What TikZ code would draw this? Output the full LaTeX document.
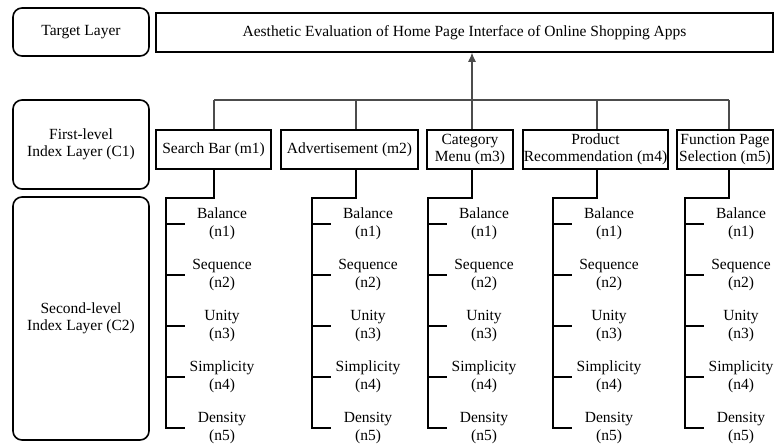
\documentclass[tikz,border=0pt]{standalone}
\usepackage{fontspec}
\setmainfont{Liberation Serif}
\usetikzlibrary{arrows.meta,positioning}

\begin{document}
\begin{tikzpicture}[x=1pt, y=-1pt, font=\fontsize{15.5}{17.5}\selectfont,
        layer/.style={draw, line width=1.6pt, rounded corners=9pt, align=center, inner sep=0pt},
        crit/.style={draw, line width=1.5pt, align=center, inner sep=0.5pt, minimum height=39pt},
        item/.style={align=center, inner sep=0pt, minimum width=74pt},
        bus/.style={line width=1.1pt, draw=black!70},
        stem/.style={line width=1.6pt}]
                \useasboundingbox (0,0) rectangle (775,445);

                % layers
                \node[layer, minimum width=136pt, minimum height=48pt] (target) at (81,32) {Target Layer};
                \node[layer, minimum width=136pt, minimum height=89pt] (first) at (81,144.5) {First-level\\Index Layer (C1)};
                \node[layer, minimum width=136pt, minimum height=243pt] (second) at (81,318.5) {Second-level\\Index Layer (C2)};

                % goal and criteria
                \node[crit, minimum width=617pt] (goal) at (464.5,32.5) {Aesthetic Evaluation of Home Page Interface of Online Shopping Apps};
                \node[crit, minimum width=115pt] (m1) at (213.5,149.5) {Search Bar (m1)};
                \node[crit, minimum width=137pt] (m2) at (349.5,149.5) {Advertisement (m2)};
                \node[crit, minimum width=86pt] (m3) at (470,149.5) {Category\\Menu (m3)};
                \node[crit, minimum width=145pt] (m4) at (595.5,149.5) {Product\\Recommendation (m4)};
                \node[crit, minimum width=96pt] (m5) at (725,149.5) {Function Page\\Selection (m5)};

                \coordinate (t1) at (214,100);
                \coordinate (t2) at (356,100);
                \coordinate (t3) at (472,100);
                \coordinate (t4) at (597,100);
                \coordinate (t5) at (729,100);

                % sub-criteria
                \foreach \i/\sx in {1/166,2/312,3/428,4/553,5/685} {
                    \coordinate (s\i) at (\sx,198);
                    \foreach \k/\name in {1/Balance,2/Sequence,3/Unity,4/Simplicity,5/Density}
                        \node[item] (n\i-\k) at (\sx+56,173+51*\k) {\name\\(n\k)};
                }

                % connectors
                \draw[bus] (t1) -- (t5);
                \draw[bus, -{Latex[length=9pt,width=8pt]}] (t3) -- (t3 |- goal.south);
                \foreach \i in {1,...,5} {
                    \draw[bus] (t\i) -- (t\i |- m\i.north);
                    \draw[stem] (t\i |- m\i.south) |- (s\i) |- (n\i-5.west);
                    \foreach \k in {1,...,4}
                        \draw[stem] (s\i |- n\i-\k.west) -- (n\i-\k.west);
                }
            \end{tikzpicture}
\end{document}
